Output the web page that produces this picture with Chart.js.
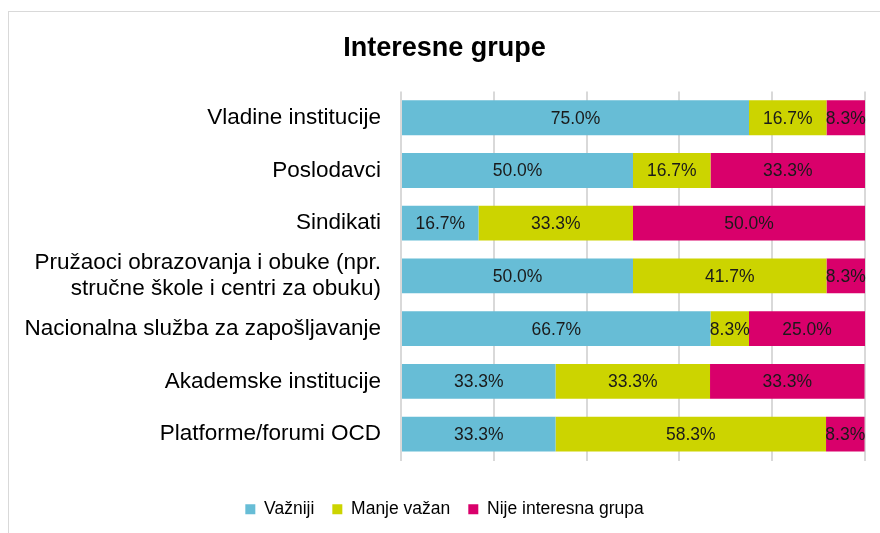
<!DOCTYPE html>
<html>
<head>
<meta charset="utf-8">
<script src="https://cdn.jsdelivr.net/npm/chart.js@4/dist/chart.umd.min.js"></script>
<style>
  body { margin: 0; background: #fff; }
  #wrap { position: relative; width: 880px; height: 533px; overflow: hidden; }
  #frame { position: absolute; left: 8px; top: 11px; width: 900px; height: 560px; border: 1px solid #d9d9d9; }
  #chart { position: absolute; left: 0; top: 0; }
</style>
</head>
<body>
<div id="wrap">
  <div id="frame"></div>
  <canvas id="chart" width="880" height="533"></canvas>
</div>
<script>
// Categories (top to bottom)
const categories = [
  'Vladine institucije',
  'Poslodavci',
  'Sindikati',
  ['Pružaoci obrazovanja i obuke (npr.', 'stručne škole i centri za obuku)'],
  'Nacionalna služba za zapošljavanje',
  'Akademske institucije',
  'Platforme/forumi OCD'
];

// Series values (%)
const vazniji = [75.0, 50.0, 16.7, 50.0, 66.7, 33.3, 33.3];
const manjeVazan = [16.7, 16.7, 33.3, 41.7, 8.3, 33.3, 58.3];
const nijeGrupa = [8.3, 33.3, 50.0, 8.3, 25.0, 33.3, 8.3];

const seriesNames = ['Važniji', 'Manje važan', 'Nije interesna grupa'];

const FONT = "'Liberation Sans', Arial, sans-serif";

// Draw the value in the middle of each segment
const barLabels = {
  id: 'barLabels',
  afterDatasetsDraw(chart) {
    const ctx = chart.ctx;
    ctx.save();
    ctx.font = '17.5px ' + FONT;
    ctx.fillStyle = '#1a1a1a';
    ctx.textAlign = 'center';
    ctx.textBaseline = 'middle';
    chart.data.datasets.forEach((ds, i) => {
      const meta = chart.getDatasetMeta(i);
      meta.data.forEach((bar, j) => {
        const v = ds.data[j];
        const x = (bar.x + bar.base) / 2;
        ctx.fillText(v.toFixed(1) + '%', x, bar.y + 1);
      });
    });
    ctx.restore();
  }
};

new Chart(document.getElementById('chart'), {
  type: 'bar',
  data: {
    labels: categories,
    datasets: [
      { label: seriesNames[0], data: vazniji, backgroundColor: '#67bdd6' },
      { label: seriesNames[1], data: manjeVazan, backgroundColor: '#ccd400' },
      { label: seriesNames[2], data: nijeGrupa, backgroundColor: '#d9006b' }
    ]
  },
  options: {
    indexAxis: 'y',
    responsive: false,
    animation: false,
    layout: { padding: { left: 24, right: 15, top: 20, bottom: 5 } },
    datasets: {
      bar: { barPercentage: 1, categoryPercentage: 0.66, borderWidth: 0 }
    },
    scales: {
      x: {
        stacked: true,
        min: 0,
        max: 100,
        ticks: { display: false, stepSize: 20 },
        grid: { color: '#d9d9d9', lineWidth: 2, drawTicks: false },
        border: { display: false },
        afterFit(scale) { scale.height = 22; }
      },
      y: {
        stacked: true,
        ticks: {
          color: '#000',
          autoSkip: false,
          font: { family: FONT, size: 22.5, lineHeight: 1.15 },
          padding: 12
        },
        grid: { display: false },
        border: { display: false },
        afterFit(scale) { scale.width = 377; }
      }
    },
    plugins: {
      title: {
        display: true,
        text: 'Interesne grupe',
        color: '#000',
        font: { family: FONT, size: 27, weight: 'bold' },
        padding: { top: 12, bottom: 27 }
      },
      legend: {
        position: 'bottom',
        labels: {
          boxWidth: 10,
          boxHeight: 10,
          padding: 18,
          color: '#000',
          font: { family: FONT, size: 17.5 }
        }
      },
      tooltip: { enabled: false }
    }
  },
  plugins: [barLabels]
});
</script>
</body>
</html>
